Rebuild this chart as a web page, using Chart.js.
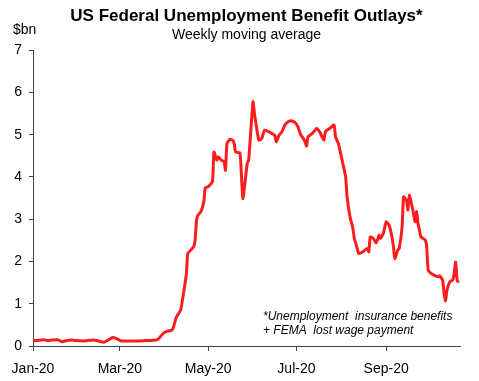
<!DOCTYPE html>
<html>
<head>
<meta charset="utf-8">
<script src="https://cdn.jsdelivr.net/npm/chart.js@4/dist/chart.umd.min.js"></script>
<style>
html,body{margin:0;padding:0;background:#fff;}
#wrap{width:479px;height:381px;position:relative;}
</style>
</head>
<body>
<div id="wrap"><canvas id="c" width="479" height="381"></canvas></div>
<script>
const dates = [
"2020-01-01","2020-01-04","2020-01-08","2020-01-11","2020-01-14","2020-01-18","2020-01-21","2020-01-23","2020-01-28","2020-01-30",
"2020-02-05","2020-02-12","2020-02-15","2020-02-19","2020-02-22","2020-02-25","2020-02-28",
"2020-03-02","2020-03-08","2020-03-15","2020-03-19","2020-03-22","2020-03-27","2020-03-31",
"2020-04-03","2020-04-06","2020-04-07","2020-04-09","2020-04-12","2020-04-14","2020-04-16","2020-04-17","2020-04-21","2020-04-22","2020-04-23","2020-04-24","2020-04-26","2020-04-28","2020-04-29",
"2020-05-01","2020-05-04","2020-05-05","2020-05-07","2020-05-08","2020-05-10","2020-05-12","2020-05-13","2020-05-14","2020-05-16","2020-05-18","2020-05-19","2020-05-20","2020-05-23","2020-05-25","2020-05-28","2020-05-29",
"2020-06-01","2020-06-02","2020-06-05","2020-06-07","2020-06-09","2020-06-12","2020-06-14","2020-06-16","2020-06-17","2020-06-19","2020-06-21","2020-06-23","2020-06-25","2020-06-27","2020-06-30",
"2020-07-02","2020-07-04","2020-07-05","2020-07-07","2020-07-08","2020-07-09","2020-07-12","2020-07-15","2020-07-17","2020-07-20","2020-07-21","2020-07-24","2020-07-27","2020-07-28","2020-07-30",
"2020-08-01","2020-08-04","2020-08-05","2020-08-07","2020-08-09","2020-08-10","2020-08-12","2020-08-13","2020-08-16","2020-08-19","2020-08-20","2020-08-21","2020-08-23","2020-08-25","2020-08-26","2020-08-27","2020-08-28","2020-08-30",
"2020-09-01","2020-09-03","2020-09-05","2020-09-06","2020-09-07","2020-09-09","2020-09-10","2020-09-12","2020-09-13","2020-09-15","2020-09-16","2020-09-17","2020-09-19","2020-09-21","2020-09-22","2020-09-23","2020-09-24","2020-09-25","2020-09-28","2020-09-29","2020-09-30",
"2020-10-02","2020-10-05","2020-10-07","2020-10-08","2020-10-10","2020-10-11","2020-10-12","2020-10-13","2020-10-15","2020-10-17","2020-10-18","2020-10-19","2020-10-20","2020-10-21"
];
const outlays = [
0.12,0.13,0.15,0.13,0.14,0.15,0.10,0.12,0.14,0.13,
0.12,0.14,0.12,0.09,0.14,0.20,0.17,
0.12,0.12,0.12,0.13,0.13,0.15,0.30,
0.35,0.38,0.44,0.68,0.85,1.25,1.72,2.19,2.35,2.51,2.98,3.10,3.18,3.41,3.74,
3.77,3.90,4.59,4.40,4.48,4.40,4.36,4.16,4.79,4.89,4.87,4.79,4.59,4.57,3.49,4.32,4.40,
5.78,5.50,4.87,4.91,5.11,5.07,5.03,4.99,4.83,4.99,5.07,5.23,5.30,5.33,5.29,
5.19,4.99,4.95,4.83,4.73,4.95,5.03,5.15,5.07,4.87,5.07,5.15,5.23,4.95,4.79,
4.48,4.00,3.53,3.06,2.78,2.55,2.31,2.19,2.23,2.31,2.23,2.58,2.55,2.44,2.51,2.62,2.55,2.66,
2.94,2.86,2.58,2.35,2.07,2.27,2.31,2.82,3.53,3.45,3.22,3.57,3.29,2.94,3.18,2.90,2.74,2.58,2.51,2.35,1.80,
1.72,1.66,1.64,1.66,1.56,1.25,1.07,1.32,1.52,1.56,1.72,1.99,1.56,1.50
];
const tickDates = ["2020-01-01","2020-03-01","2020-05-01","2020-07-01","2020-09-01"];
const tickLabels = ["Jan-20","Mar-20","May-20","Jul-20","Sep-20"];
const axisEndDate = "2020-10-22";
const yTicks = [0,1,2,3,4,5,6,7];

const titleText = "US Federal Unemployment Benefit Outlays*";
const subtitleText = "Weekly moving average";
const unitText = "$bn";
const noteLines = ["*Unemployment  insurance benefits", "+ FEMA  lost wage payment"];

const base = Date.parse("2020-01-01");
const dayOf = s => Math.round((Date.parse(s) - base) / 86400000);
const points = dates.map((d, i) => ({x: dayOf(d), y: outlays[i]}));
const tickDays = tickDates.map(dayOf);

const FONT = "'Liberation Sans', Arial, Helvetica, sans-serif";

const extraText = {
  id: 'extraText',
  afterDraw(chart) {
    const ctx = chart.ctx;
    ctx.save();
    ctx.fillStyle = '#000';
    ctx.textBaseline = 'middle';
    ctx.textAlign = 'left';
    ctx.font = "14px " + FONT;
    ctx.fillText(unitText, 13, 30);
    ctx.font = "italic 12px " + FONT;
    ctx.fillText(noteLines[0], 263, 317);
    ctx.fillText(noteLines[1], 263, 331);
    ctx.restore();
  }
};

new Chart(document.getElementById('c'), {
  type: 'line',
  data: {
    datasets: [{
      data: points,
      borderColor: 'rgb(255,28,28)',
      borderWidth: 3,
      pointRadius: 0,
      tension: 0.15,
      fill: false
    }]
  },
  options: {
    responsive: false,
    animation: false,
    events: [],
    layout: {padding: {left: 0, right: 19, top: 0, bottom: 0}},
    plugins: {
      legend: {display: false},
      tooltip: {enabled: false},
      title: {
        display: true, text: titleText, color: '#000', fullSize: false,
        font: {family: FONT, size: 17, weight: 'bold', lineHeight: 1.2},
        padding: {top: 6, bottom: 0}
      },
      subtitle: {
        display: true, text: subtitleText, color: '#000', fullSize: false,
        font: {family: FONT, size: 14, weight: 'normal', lineHeight: 1.2},
        padding: {top: 0, bottom: 7}
      }
    },
    scales: {
      x: {
        type: 'linear',
        min: 0,
        max: dayOf(axisEndDate),
        afterBuildTicks: s => { s.ticks = tickDays.map(v => ({value: v})); },
        afterFit: s => { s.height = 35; },
        ticks: {
          autoSkip: false, maxRotation: 0, color: '#000', padding: 10,
          font: {family: FONT, size: 14},
          callback: (v, i) => tickLabels[i]
        },
        grid: {drawOnChartArea: false, drawTicks: true, tickLength: 5, color: '#444', lineWidth: 1},
        border: {display: true, color: '#444', width: 1}
      },
      y: {
        min: 0, max: 7,
        afterBuildTicks: s => { s.ticks = yTicks.map(v => ({value: v})); },
        afterFit: s => { s.width = 33; },
        ticks: {color: '#000', padding: 7, font: {family: FONT, size: 14}},
        grid: {drawOnChartArea: false, drawTicks: true, tickLength: 4, color: '#444', lineWidth: 1},
        border: {display: true, color: '#444', width: 1}
      }
    }
  },
  plugins: [extraText]
});
</script>
</body>
</html>
